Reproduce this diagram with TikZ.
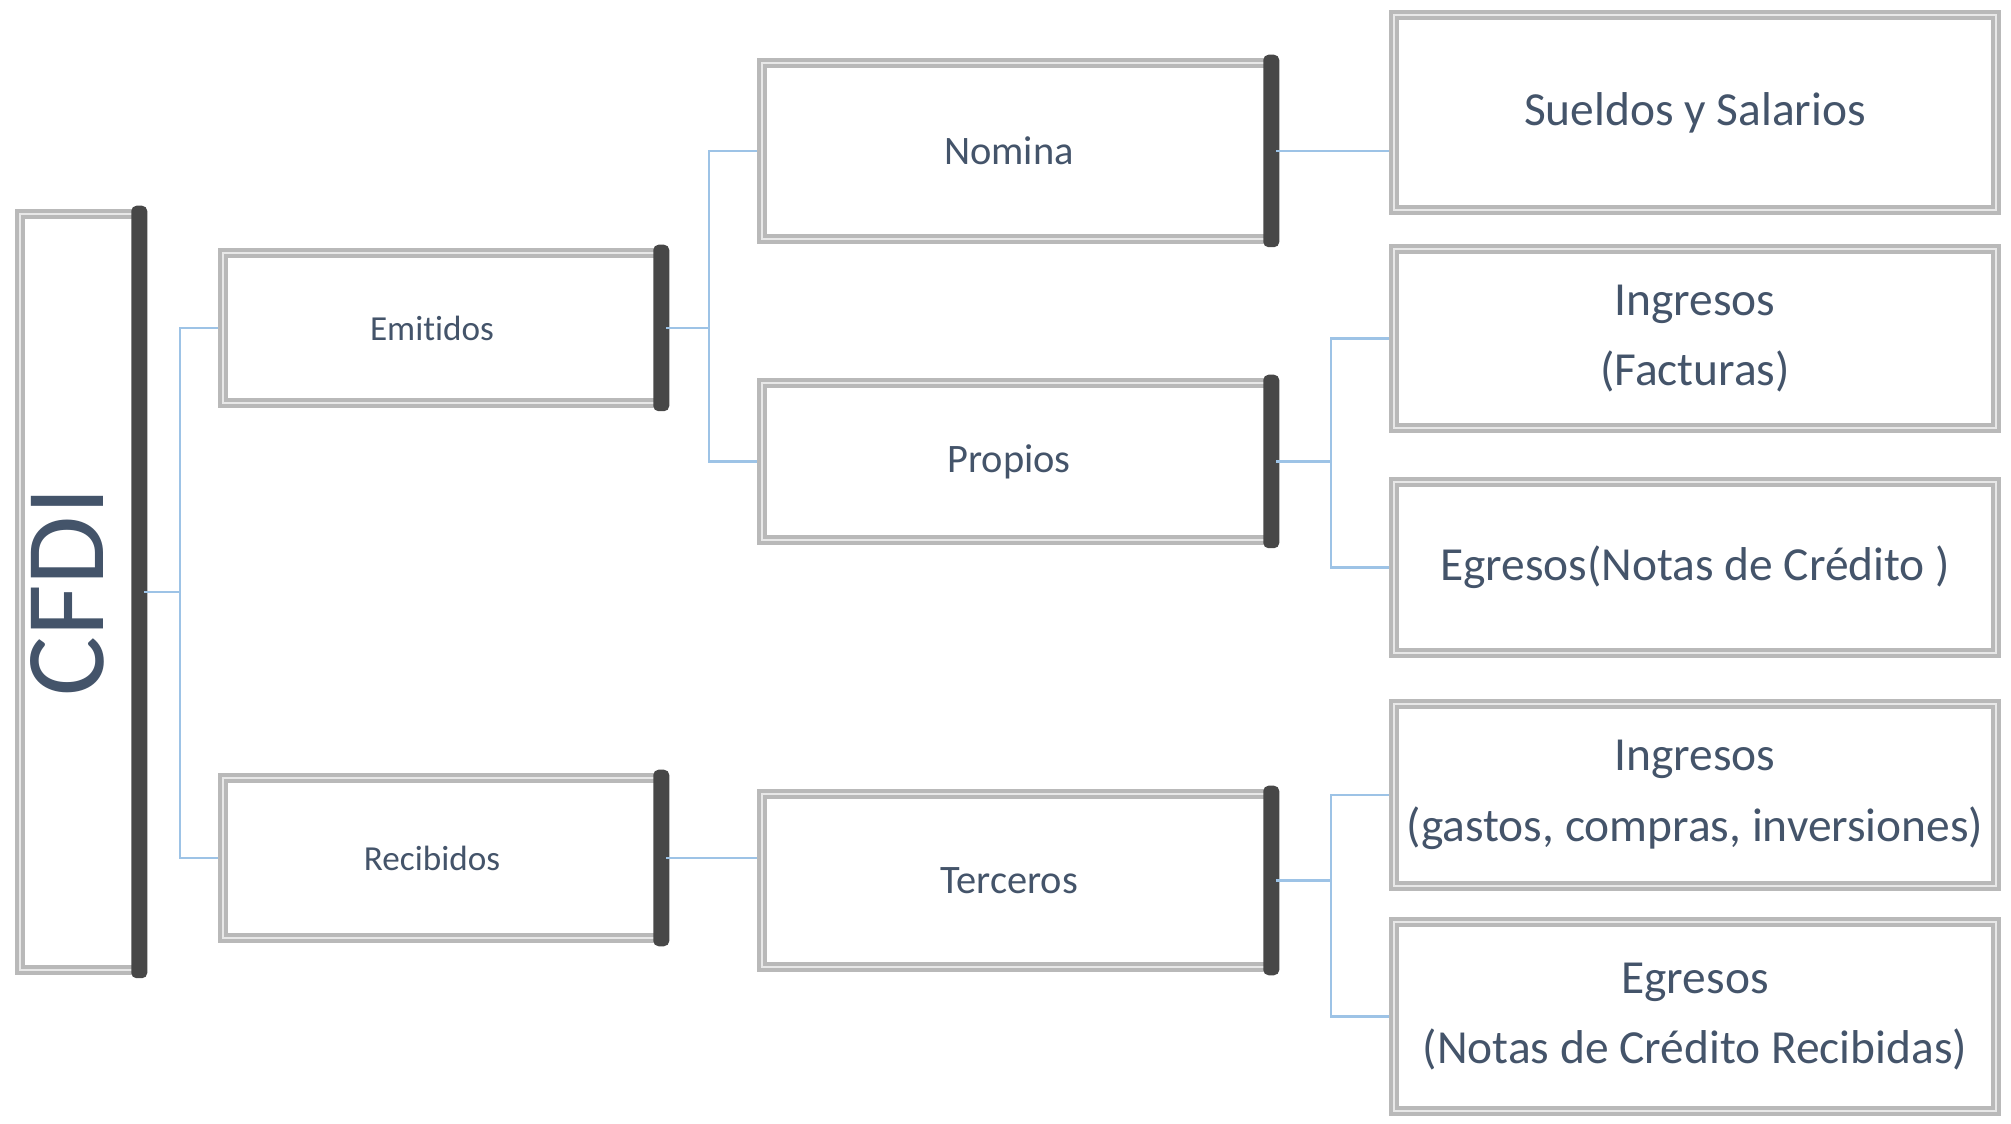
\documentclass[tikz,border=0pt]{standalone}
\usepackage{fontspec}
\setmainfont{Carlito}[Ligatures={NoCommon}]
\usepackage{xcolor}
\usepackage{graphicx}
\usepackage{tikz}
\definecolor{texto}{HTML}{44546A}
\definecolor{linea}{HTML}{9DC3E6}

\begin{document}
\begin{tikzpicture}[
    caja/.style={rectangle, draw=gray!55, line width=3pt, fill=white, text=texto,
                 align=center, inner sep=0pt, postaction={draw=gray!18, line width=0.8pt}},
    chico/.style={caja, font=\fontsize{10}{12}\selectfont},
    medio/.style={caja, font=\fontsize{11.5}{14}\selectfont},
    grande/.style={caja, font=\fontsize{13.5}{20}\selectfont},
    lado/.style={fill=black!72, rounded corners=1.5pt},
    conector/.style={draw=linea, line width=0.6pt}
  ]
    \useasboundingbox (0,0) rectangle (20.11,11.24);
    \def\wa{4.38};   %ancho nivel 1%
    \def\wb{5.09};   %ancho nivel 2%
    \def\wc{6.02};   %ancho nivel 3%

    \node[caja, minimum width=1.19cm, minimum height=7.56cm] (cfdi) at (0.795,5.32)
        {\hspace*{-0.25cm}\rotatebox{90}{\fontsize{32}{36}\selectfont CFDI}};

    \node[chico, minimum width=\wa cm, minimum height=1.50cm] (emi) at (4.42,7.96) {\hspace*{-0.2cm}Emitidos};
    \node[chico, minimum width=\wa cm, minimum height=1.60cm] (rec) at (4.42,2.66) {\hspace*{-0.2cm}Recibidos};

    \node[medio, minimum width=\wb cm, minimum height=1.76cm] (nom) at (10.165,9.73) {\hspace*{-0.15cm}Nomina};
    \node[medio, minimum width=\wb cm, minimum height=1.57cm] (pro) at (10.165,6.625) {\hspace*{-0.15cm}Propios};
    \node[medio, minimum width=\wb cm, minimum height=1.73cm] (ter) at (10.165,2.435) {\hspace*{-0.15cm}Terceros};

    \node[grande, minimum width=\wc cm, minimum height=1.95cm] (sue) at (16.95,10.115) {Sueldos y Salarios};
    \node[grande, minimum width=\wc cm, minimum height=1.79cm] (ingf) at (16.95,7.855) {Ingresos\\(Facturas)};
    \node[grande, minimum width=\wc cm, minimum height=1.71cm] (egrn) at (16.95,5.565) {Egresos(Notas de Crédito )};
    \node[grande, minimum width=\wc cm, minimum height=1.82cm] (ingg) at (16.95,3.29) {Ingresos\\(gastos, compras, inversiones)};
    \node[grande, minimum width=\wc cm, minimum height=1.89cm] (egrr) at (16.95,1.075) {Egresos\\(Notas de Crédito Recibidas)};

    %lado oscuro de las cajas%
    \foreach \n in {cfdi,emi,rec,nom,pro,ter}
        \fill[lado] ([xshift=-0.13cm,yshift=0.03cm]\n.north east) rectangle ([xshift=0.03cm,yshift=-0.03cm]\n.south east);

    \coordinate (s1) at (1.80,0);
    \coordinate (s2) at (7.09,0);
    \coordinate (s3) at (13.31,0);

    \draw[conector] (cfdi.east) -- (cfdi.east -| s1) |- (emi.west);
    \draw[conector] (cfdi.east -| s1) |- (rec.west);

    \draw[conector] (emi.east) -- (emi.east -| s2) |- (nom.west);
    \draw[conector] (emi.east -| s2) |- (pro.west);
    \draw[conector] (rec.east) -- (rec.east -| ter.west);

    \draw[conector] (nom.east) -- (nom.east -| sue.west);
    \draw[conector] (pro.east) -- (pro.east -| s3) |- (ingf.west);
    \draw[conector] (pro.east -| s3) |- (egrn.west);
    \draw[conector] (ter.east) -- (ter.east -| s3) |- (ingg.west);
    \draw[conector] (ter.east -| s3) |- (egrr.west);
\end{tikzpicture}
\end{document}
